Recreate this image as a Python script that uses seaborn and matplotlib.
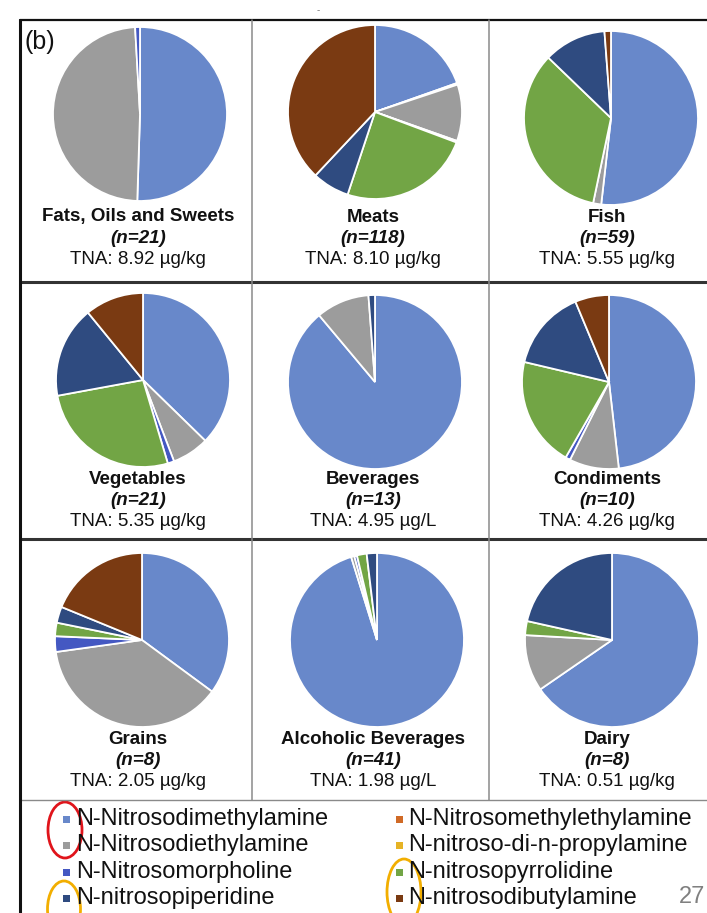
import matplotlib
matplotlib.use("Agg")
import matplotlib.pyplot as plt
from matplotlib.lines import Line2D
from matplotlib.patches import Ellipse, Rectangle
import seaborn as sns

# ---- data -------------------------------------------------------------
compounds = [
    "N-Nitrosodimethylamine", "N-Nitrosomethylethylamine",
    "N-Nitrosodiethylamine", "N-nitroso-di-n-propylamine",
    "N-Nitrosomorpholine", "N-nitrosopyrrolidine",
    "N-nitrosopiperidine", "N-nitrosodibutylamine",
]
compound_colors = ["#6888CA", "#D06A26", "#9C9C9C", "#E6B325",
                   "#4458C2", "#72A545", "#2F4B80", "#7A3A12"]

food_groups = ["Fats, Oils and Sweets", "Meats", "Fish",
               "Vegetables", "Beverages", "Condiments",
               "Grains", "Alcoholic Beverages", "Dairy"]
sample_counts = [21, 118, 59, 21, 13, 10, 8, 41, 8]
tna_values = [8.92, 8.10, 5.55, 5.35, 4.95, 4.26, 2.05, 1.98, 0.51]
tna_units = ["µg/kg", "µg/kg", "µg/kg", "µg/kg", "µg/L", "µg/kg",
             "µg/kg", "µg/L", "µg/kg"]

# share of each compound (%), in the order of `compounds`
fats_oils_sweets = [50.5, 0.0, 48.6, 0.0, 0.9, 0.0, 0.0, 0.0]
meats = [19.6, 0.3, 10.5, 0.0, 0.3, 24.4, 6.9, 38.0]
fish = [51.8, 0.0, 1.5, 0.0, 0.0, 33.9, 11.6, 1.2]
vegetables = [37.3, 0.0, 6.9, 0.0, 1.2, 26.7, 17.0, 10.9]
beverages = [88.9, 0.0, 9.9, 0.0, 0.0, 0.0, 1.2, 0.0]
condiments = [48.2, 0.0, 9.2, 0.0, 0.9, 20.4, 15.0, 6.3]
grains = [35.1, 0.0, 37.7, 0.0, 2.9, 2.5, 3.0, 18.8]
alcoholic_beverages = [95.2, 0.0, 0.6, 0.0, 0.5, 1.8, 1.9, 0.0]
dairy = [65.4, 0.0, 10.5, 0.0, 0.0, 2.6, 21.5, 0.0]

shares = [fats_oils_sweets, meats, fish, vegetables, beverages,
          condiments, grains, alcoholic_beverages, dairy]

# ---- styling ----------------------------------------------------------
sns.set_theme(style="white")
plt.rcParams["font.family"] = ["Liberation Sans", "DejaVu Sans"]
palette = sns.color_palette(compound_colors)

W, H = 707, 913
fig = plt.figure(figsize=(W / 100, H / 100), dpi=100)
fig.patch.set_facecolor("white")


def fx(x):
    return x / W


def fy(y):
    return 1 - y / H


def hline(y, x0, x1, color, lw):
    fig.add_artist(Line2D([fx(x0), fx(x1)], [fy(y), fy(y)],
                          color=color, lw=lw, transform=fig.transFigure))


def vline(x, y0, y1, color, lw):
    fig.add_artist(Line2D([fx(x), fx(x)], [fy(y0), fy(y1)],
                          color=color, lw=lw, transform=fig.transFigure))


# panel grid
hline(20, 20, W, "#111111", 1.6)
hline(282, 20, W, "#333333", 2.2)
hline(539, 20, W, "#333333", 2.2)
hline(800, 20, W, "#8a8a8a", 1.0)
vline(252, 20, 800, "#8a8a8a", 1.1)
vline(489, 20, 800, "#8a8a8a", 1.1)
vline(20, 20, H, "#111111", 2.2)

# pie centres / radius (pixels) and text columns
pie_centers = [(140, 114), (375, 112), (611, 118),
               (143, 380), (375, 382), (609, 382),
               (142, 640), (377, 640), (612, 640)]
radius = 87
text_x = [138, 373, 607]
text_rows = [217, 479, 739]
line_gap = 21

for i, (grp, vals) in enumerate(zip(food_groups, shares)):
    cx, cy = pie_centers[i]
    ax = fig.add_axes([fx(cx - radius), fy(cy + radius),
                       2 * radius / W, 2 * radius / H])
    keep = [k for k, v in enumerate(vals) if v > 0]
    wedges, _ = ax.pie([vals[k] for k in keep],
                       colors=[palette[k] for k in keep],
                       startangle=90, counterclock=False,
                       wedgeprops=dict(edgecolor="white", linewidth=1.3))
    for w in wedges:
        w.set_clip_on(False)
    ax.set_xlim(-1, 1)
    ax.set_ylim(-1, 1)
    ax.set_axis_off()

    col, row = i % 3, i // 3
    tx, ty = text_x[col], text_rows[row]
    fig.text(fx(tx), fy(ty), grp, ha="center", va="center",
             fontsize=13.5, fontweight="bold", color="#111111")
    fig.text(fx(tx), fy(ty + line_gap), f"(n={sample_counts[i]})",
             ha="center", va="center", fontsize=13.5, fontweight="bold",
             fontstyle="italic", color="#111111")
    fig.text(fx(tx), fy(ty + 2 * line_gap),
             f"TNA: {tna_values[i]:.2f} {tna_units[i]}",
             ha="center", va="center", fontsize=13.5, color="#111111")

# panel tag and small top mark
fig.text(fx(24), fy(42), "(b)", ha="left", va="center", fontsize=18,
         color="#111111")
fig.text(fx(318), fy(10), "-", ha="center", va="center", fontsize=7,
         color="#777777")

# legend: two columns, row-major order
leg_rows = [819, 845, 872, 898]
leg_cols = [(66, 76), (399, 408)]
for k, name in enumerate(compounds):
    col, row = k % 2, k // 2
    mx, tx = leg_cols[col]
    y = leg_rows[row]
    fig.add_artist(Rectangle((fx(mx - 3.5), fy(y + 3.5)), 7 / W, 7 / H,
                             facecolor=palette[k], edgecolor="none",
                             transform=fig.transFigure))
    fig.text(fx(tx), fy(y), name, ha="left", va="center", fontsize=17,
             color="#111111")

# highlight rings around legend keys
rings = [((65, 830), 34, 56, "#E0141B"),
         ((64, 909), 33, 56, "#F2AE00"),
         ((404, 892), 34, 66, "#F2AE00")]
for (ex, ey), ew, eh, ec in rings:
    fig.add_artist(Ellipse((fx(ex), fy(ey)), ew / W, eh / H, fill=False,
                           edgecolor=ec, lw=2.0, transform=fig.transFigure))

# page number
fig.text(fx(679), fy(897), "27", ha="left", va="center", fontsize=17,
         color="#808080")

fig.savefig("out.png", dpi=100)
